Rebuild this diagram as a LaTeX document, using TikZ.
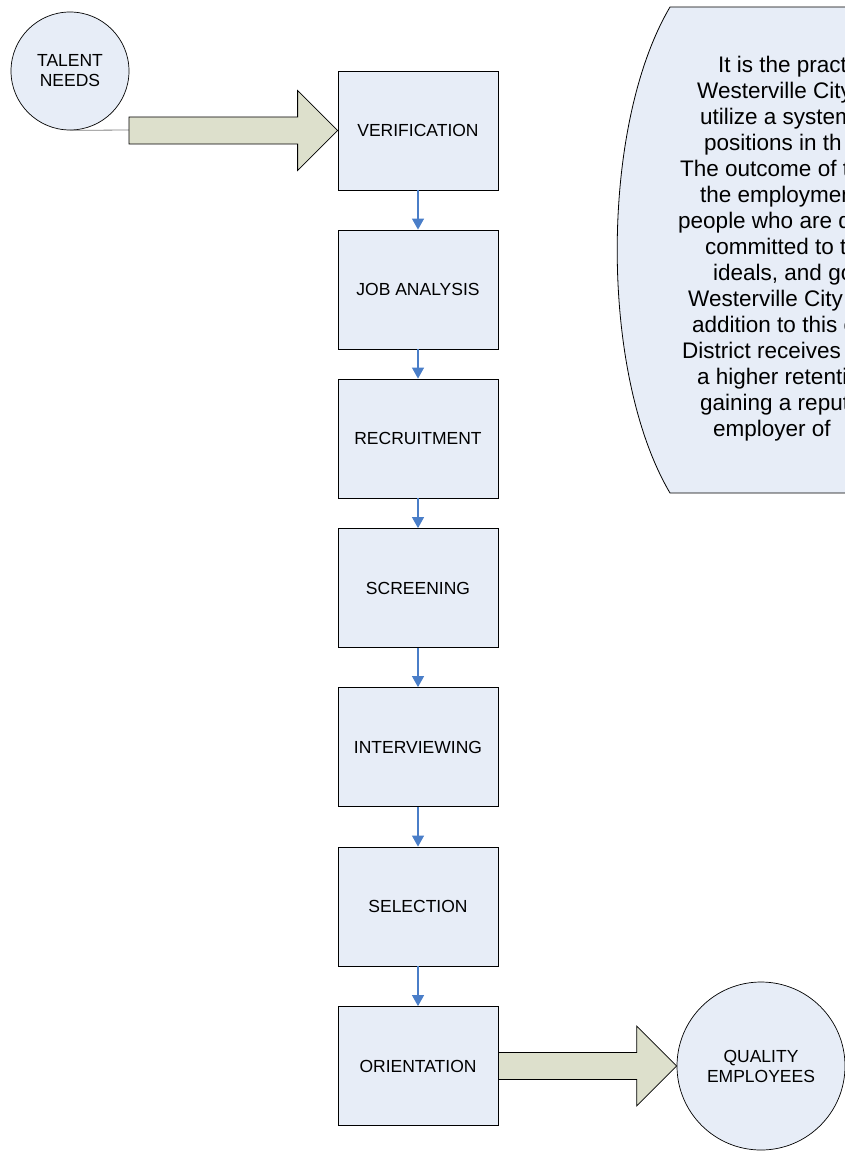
\documentclass[tikz,border=0pt]{standalone}
\usepackage{fontspec}
\setmainfont{Liberation Sans}
\usetikzlibrary{arrows.meta, calc}
\definecolor{boxblue}{RGB}{231,237,247}
\definecolor{arrowgreen}{RGB}{221,224,204}
\definecolor{linkblue}{RGB}{74,126,200}
\tikzset{stage/.style={draw, line width=0.8pt, fill=boxblue, minimum width=160pt, minimum height=119pt, inner sep=0pt},
         ends/.style={draw, line width=0.7pt, circle, fill=boxblue, align=center, inner sep=0pt},
         link/.style={draw=linkblue, line width=1.1pt, -{Triangle[width=12pt,length=11pt]}},
         fat arrow/.style={draw, line width=0.8pt, fill=arrowgreen}
}
\newcommand{\fatarrow}[2]{\draw [fat arrow] let \p1=(#1), \p2=(#2) in (\x1,\y2+13.5pt) -- (\x2-40pt,\y2+13.5pt) -- (\x2-40pt,\y2+40pt) -- (\x2,\y2) -- (\x2-40pt,\y2-40pt) -- (\x2-40pt,\y2-13.5pt) -- (\x1,\y2-13.5pt) -- cycle;}

\begin{document}
\begin{tikzpicture}[x=1pt, y=-1pt, font=\fontsize{17.5}{20}\selectfont]
        \useasboundingbox (0,0) rectangle (845,1153);
        \draw [fill=boxblue, line width=0.8pt] (880,7) -- (670,7) .. controls (599.6,126.4) and (599.6,373.6) .. (670,493) -- (880,493);
        \node (note) [anchor=north west, align=left, inner sep=0pt, font=\fontsize{22.5}{26}\selectfont] at (678,55.6) {\hspace*{40pt}It is the pract\\
          \hspace*{19pt}Westerville City\\
          \hspace*{22pt}utilize a system\\
          \hspace*{26pt}positions in th\\
          \hspace*{2pt}The outcome of t\\
          \hspace*{22pt}the employmen\\
          people who are d\\
          \hspace*{27pt}committed to t\\
          \hspace*{35pt}ideals, and go\\
          \hspace*{10pt}Westerville City\\
          \hspace*{14pt}addition to this c\\
          \hspace*{4pt}District receives t\\
          \hspace*{19pt}a higher retenti\\
          \hspace*{22pt}gaining a reput\\
          \hspace*{35pt}employer of};
        \node (talent) [ends, minimum size=118pt] at (70,71) {TALENT\\NEEDS};
        \node (quality) [ends, minimum size=168pt] at (761,1066) {QUALITY\\EMPLOYEES};
        \node (verif) [stage] at (418,130.5) {VERIFICATION};
        \node (job) [stage] at (418,289.5) {JOB ANALYSIS};
        \node (recruit) [stage] at (418,438.5) {RECRUITMENT};
        \node (screen) [stage] at (418,588) {SCREENING};
        \node (interview) [stage] at (418,747) {INTERVIEWING};
        \node (select) [stage] at (418,906.5) {SELECTION};
        \node (orient) [stage] at (418,1066) {ORIENTATION};
        \draw [link] (verif) -- (job);
        \draw [link] (job) -- (recruit);
        \draw [link] (recruit) -- (screen);
        \draw [link] (screen) -- (interview);
        \draw [link] (interview) -- (select);
        \draw [link] (select) -- (orient);
        \coordinate (tail) at (129,130);
        \draw [gray, line width=0.8pt] (talent.south) -- (tail);
        \fatarrow{tail}{verif.west}
        \fatarrow{orient.east}{quality.west}
      \end{tikzpicture}
\end{document}
